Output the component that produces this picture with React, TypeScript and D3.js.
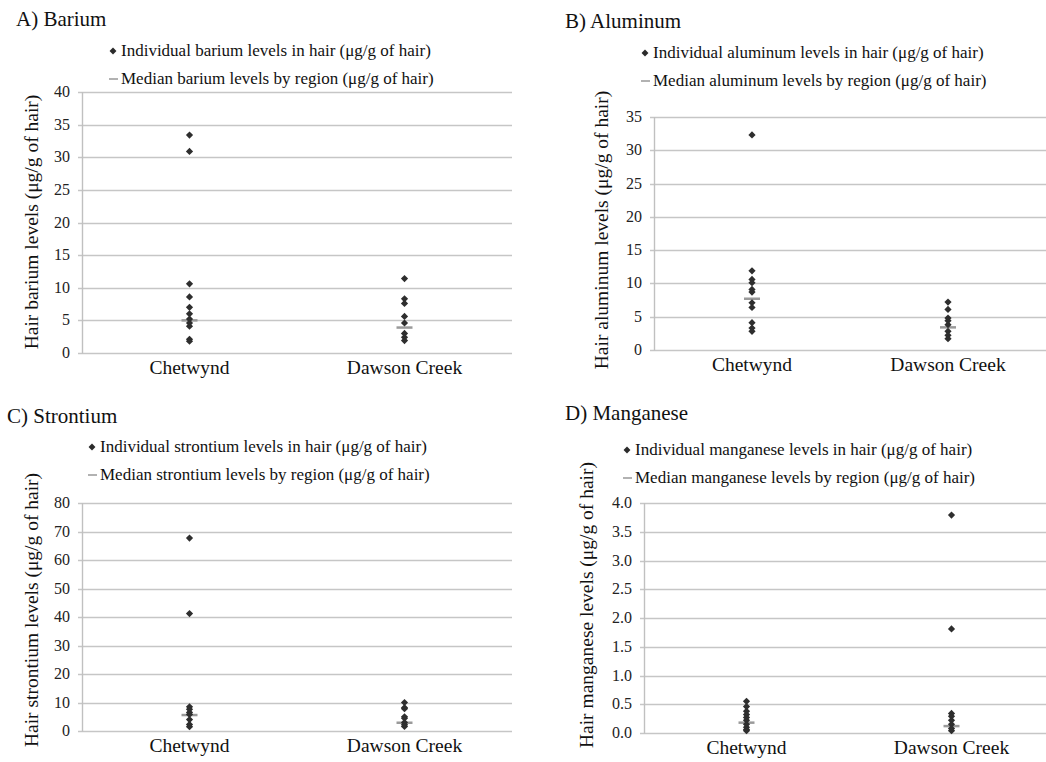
// App.tsx - hair metal levels, four scatter panels

import React, { useEffect, useRef } from 'react'
import * as d3 from 'd3'

var regions = ["Chetwynd", "Dawson Creek"];

var bariumChetwynd = [33.4, 30.9, 10.6, 8.6, 7.0, 6.0, 5.2, 4.6, 4.1, 2.1, 1.8];
var bariumDawson = [11.4, 8.3, 7.6, 5.6, 4.6, 3.0, 2.4, 1.9];
var bariumMedians = [5.0, 3.9];
var bariumTicks = [0, 5, 10, 15, 20, 25, 30, 35, 40];

var aluminumChetwynd = [32.3, 11.9, 10.6, 10.1, 9.1, 8.7, 7.1, 6.4, 4.1, 3.3, 2.8];
var aluminumDawson = [7.2, 6.1, 4.8, 4.4, 3.8, 2.8, 2.2, 1.7];
var aluminumMedians = [7.7, 3.4];
var aluminumTicks = [0, 5, 10, 15, 20, 25, 30, 35];

var strontiumChetwynd = [67.7, 41.2, 8.5, 7.6, 6.5, 5.8, 4.0, 2.3, 1.5];
var strontiumDawson = [10.0, 8.2, 7.8, 5.0, 4.5, 3.0, 2.2, 1.6];
var strontiumMedians = [5.6, 2.9];
var strontiumTicks = [0, 10, 20, 30, 40, 50, 60, 70, 80];

var manganeseChetwynd = [0.55, 0.46, 0.38, 0.32, 0.27, 0.22, 0.15, 0.10, 0.06, 0.04];
var manganeseDawson = [3.79, 1.81, 0.34, 0.29, 0.22, 0.15, 0.08, 0.04];
var manganeseMedians = [0.18, 0.12];
var manganeseTicks = [0, 0.5, 1.0, 1.5, 2.0, 2.5, 3.0, 3.5, 4.0];

var font = '"Liberation Serif", "Times New Roman", serif';

function drawPanel(svg, p) {
  var g = svg.append("g");

  var y = d3.scaleLinear()
      .domain([0, p.ticks[p.ticks.length - 1]])
      .range([p.bottom, p.top]);

  var x = d3.scalePoint()
      .domain(regions)
      .range([p.left, p.right])
      .padding(0.5);

  // title
  g.append("text")
    .attr("x", p.titleX)
    .attr("y", p.titleY)
    .attr("font-size", 21)
    .attr("fill", "#111")
    .text(p.title);

  // legend
  g.append("path")
    .attr("d", d3.symbol(d3.symbolSquare, 24)())
    .attr("transform", "translate(" + p.legX + "," + (p.legY - 5) + ") rotate(45)")
    .attr("fill", "#2b2b2b");
  g.append("text")
    .attr("x", p.legX + 8)
    .attr("y", p.legY)
    .attr("font-size", 17)
    .attr("fill", "#111")
    .text("Individual " + p.metal + " levels in hair (\u03bcg/g of hair)");
  g.append("line")
    .attr("x1", p.legX - 4).attr("x2", p.legX + 5)
    .attr("y1", p.legY + 23).attr("y2", p.legY + 23)
    .attr("stroke", "#999").attr("stroke-width", 1.5);
  g.append("text")
    .attr("x", p.legX + 8)
    .attr("y", p.legY + 28)
    .attr("font-size", 17)
    .attr("fill", "#111")
    .text("Median " + p.metal + " levels by region (\u03bcg/g of hair)");

  // gridlines
  g.selectAll(".grid")
    .data(p.ticks)
    .enter()
      .append("line")
      .attr("x1", p.left - 4)
      .attr("x2", p.right)
      .attr("y1", function(d) { return Math.round(y(d)) + 0.5; })
      .attr("y2", function(d) { return Math.round(y(d)) + 0.5; })
      .attr("stroke", "#c6c6c6")
      .attr("stroke-width", 1.4);

  g.append("line")
    .attr("x1", p.left + 0.5).attr("x2", p.left + 0.5)
    .attr("y1", y.range()[1]).attr("y2", p.bottom + 0.5)
    .attr("stroke", "#c0c0c0")
    .attr("stroke-width", 1.4);

  // tick labels
  g.selectAll(".tick")
    .data(p.ticks)
    .enter()
      .append("text")
      .attr("x", p.left - 12)
      .attr("y", function(d) { return y(d) + 5; })
      .attr("text-anchor", "end")
      .attr("font-size", 16)
      .attr("fill", "#222")
      .text(p.fmt);

  // category labels
  g.selectAll(".cat")
    .data(regions)
    .enter()
      .append("text")
      .attr("x", function(d) { return x(d); })
      .attr("y", p.bottom + 21)
      .attr("text-anchor", "middle")
      .attr("font-size", 19.5)
      .attr("fill", "#111")
      .text(function(d) { return d; });

  // y title
  g.append("text")
    .attr("transform", "translate(" + p.yTitleX + "," + p.yTitleY + ") rotate(-90)")
    .attr("text-anchor", "middle")
    .attr("font-size", 19.5)
    .attr("fill", "#111")
    .text(p.yTitle);

  // medians
  g.selectAll(".median")
    .data(p.medians)
    .enter()
      .append("line")
      .attr("x1", function(d, i) { return x(regions[i]) - 8; })
      .attr("x2", function(d, i) { return x(regions[i]) + 8; })
      .attr("y1", function(d) { return y(d); })
      .attr("y2", function(d) { return y(d); })
      .attr("stroke", "#9a9a9a")
      .attr("stroke-width", 2.5);

  // points
  var pts = [];
  p.series.forEach(function(vals, i) {
    vals.forEach(function(v) { pts.push({ region: regions[i], value: v }); });
  });

  g.selectAll(".pt")
    .data(pts)
    .enter()
      .append("path")
      .attr("d", d3.symbol(d3.symbolSquare, 26)())
      .attr("transform", function(d) { return "translate(" + x(d.region) + "," + y(d.value) + ") rotate(45)"; })
      .attr("fill", "#2e2e2e");
}

export default function App() {
  var ref = useRef(null);

  useEffect(function() {
    var svg = d3.select(ref.current);
    svg.selectAll("*").remove();

    var intFmt = function(d) { return d3.format("d")(d); };

    drawPanel(svg, {
      title: "A) Barium", titleX: 16, titleY: 26, metal: "barium",
      legX: 113, legY: 56,
      left: 82, right: 512, top: 92, bottom: 353,
      ticks: bariumTicks, fmt: intFmt,
      yTitle: "Hair barium levels (\u03bcg/g of hair)", yTitleX: 38, yTitleY: 222,
      series: [bariumChetwynd, bariumDawson], medians: bariumMedians
    });

    drawPanel(svg, {
      title: "B) Aluminum", titleX: 565, titleY: 28, metal: "aluminum",
      legX: 645, legY: 58,
      left: 654, right: 1046, top: 117, bottom: 350,
      ticks: aluminumTicks, fmt: intFmt,
      yTitle: "Hair aluminum levels (\u03bcg/g of hair)", yTitleX: 608, yTitleY: 230,
      series: [aluminumChetwynd, aluminumDawson], medians: aluminumMedians
    });

    drawPanel(svg, {
      title: "C) Strontium", titleX: 7, titleY: 423, metal: "strontium",
      legX: 92, legY: 452,
      left: 82, right: 512, top: 503, bottom: 731,
      ticks: strontiumTicks, fmt: intFmt,
      yTitle: "Hair strontium levels (\u03bcg/g of hair)", yTitleX: 38, yTitleY: 610,
      series: [strontiumChetwynd, strontiumDawson], medians: strontiumMedians
    });

    drawPanel(svg, {
      title: "D) Manganese", titleX: 565, titleY: 420, metal: "manganese",
      legX: 627, legY: 455,
      left: 644, right: 1054, top: 503, bottom: 733,
      ticks: manganeseTicks, fmt: d3.format(".1f"),
      yTitle: "Hair manganese levels (\u03bcg/g of hair)", yTitleX: 593, yTitleY: 605,
      series: [manganeseChetwynd, manganeseDawson], medians: manganeseMedians
    });
  }, []);

  return (
    <div style={{ position: "absolute", left: 0, top: 0 }}>
      <svg ref={ref} width={1046} height={762} style={{ display: "block", background: "#fff", fontFamily: font }} />
    </div>
  );
}
